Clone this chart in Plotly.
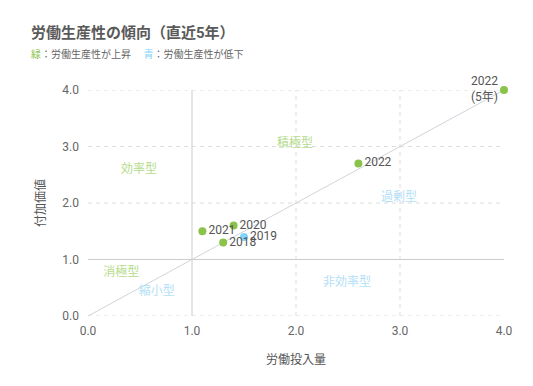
import plotly.graph_objects as go

years = ["2018", "2019", "2020", "2021", "2022", "2022<br>(5年)"]
labor_input = [1.3, 1.5, 1.4, 1.1, 2.6, 4.0]
value_added = [1.3, 1.4, 1.6, 1.5, 2.7, 4.0]
trend = ["up", "down", "up", "up", "up", "up"]

region_names = ["効率型", "積極型", "過剰型", "非効率型", "消極型", "縮小型"]
region_x = [0.49, 1.99, 2.99, 2.49, 0.32, 0.66]
region_y = [2.58, 3.05, 2.09, 0.58, 0.76, 0.42]
region_trend = ["up", "up", "down", "down", "up", "down"]

x_ticks = [0, 1, 2, 3, 4]
y_ticks = [0, 1, 2, 3, 4]

GREEN = "#8bc34a"
BLUE = "#81d4fa"
GREEN_L = "#b5dc8c"
BLUE_L = "#b3e0f7"
FONT = "Roboto, 'Noto Sans CJK JP', sans-serif"

fig = go.Figure()

# diagonal reference
fig.add_trace(go.Scatter(x=[0, 4], y=[0, 4], mode="lines",
                         line=dict(color="#d0d4da", width=1), hoverinfo="skip",
                         showlegend=False, cliponaxis=False))

# region labels
fig.add_trace(go.Scatter(x=region_x, y=region_y, mode="text", text=region_names,
                         textfont=dict(size=12, family=FONT,
                                       color=[GREEN_L if t == "up" else BLUE_L for t in region_trend]),
                         showlegend=False, hoverinfo="skip"))

positions = ["middle right"] * 5 + ["middle left"]
fig.add_trace(go.Scatter(x=labor_input, y=value_added, mode="markers+text",
                         text=years, textposition=positions,
                         marker=dict(size=8, color=[GREEN if t == "up" else BLUE for t in trend]),
                         textfont=dict(size=12, family=FONT, color="#555555"),
                         showlegend=False, cliponaxis=False))

GRID = dict(color="#dddddd", width=1, dash="4px,4px")
shapes = []
for v in [0, 2, 3, 4]:
    shapes.append(dict(type="line", xref="x", yref="y", x0=0, x1=4, y0=v, y1=v,
                       line=GRID, layer="below"))
for v in [2, 3]:
    shapes.append(dict(type="line", xref="x", yref="y", x0=v, x1=v, y0=0, y1=4,
                       line=GRID, layer="below"))
shapes.append(dict(type="line", xref="x", yref="y", x0=0, x1=4, y0=1, y1=1,
                   line=dict(color="#cccccc", width=1), layer="below"))
shapes.append(dict(type="line", xref="x", yref="y", x0=1, x1=1, y0=0, y1=4,
                   line=dict(color="#cccccc", width=1), layer="below"))

fig.update_layout(
    width=517, height=370,
    margin=dict(l=80, r=18, t=82, b=62),
    paper_bgcolor="white", plot_bgcolor="white",
    font=dict(family=FONT, color="#666666", size=12),
    shapes=shapes,
    xaxis=dict(range=[0, 4], tickvals=x_ticks, tickformat=".1f", showgrid=False,
               zeroline=False, showline=False, ticks="", ticklabelstandoff=6,
               title=dict(text="労働投入量", font=dict(size=12, color="#555555"), standoff=18)),
    yaxis=dict(range=[0, 4], tickvals=y_ticks, tickformat=".1f", showgrid=False,
               zeroline=False, showline=False, ticks="", ticklabelstandoff=8,
               title=dict(text="付加価値", font=dict(size=12, color="#555555"), standoff=14)),
    annotations=[
        dict(text="<b>労働生産性の傾向（直近5年）</b>", xref="paper", yref="paper",
             x=-0.143, y=1.0, yshift=57, xanchor="left", yanchor="middle", showarrow=False,
             font=dict(size=15, color="#5a5a5a", family=FONT)),
        dict(text="<span style='color:%s'>緑</span>：労働生産性が上昇　 <span style='color:%s'>青</span>：労働生産性が低下" % (GREEN, BLUE),
             xref="paper", yref="paper", x=-0.143, y=1.0, yshift=36, xanchor="left", yanchor="middle",
             showarrow=False, font=dict(size=10, color="#666666", family=FONT)),
    ],
)

fig.write_html("out.html")
